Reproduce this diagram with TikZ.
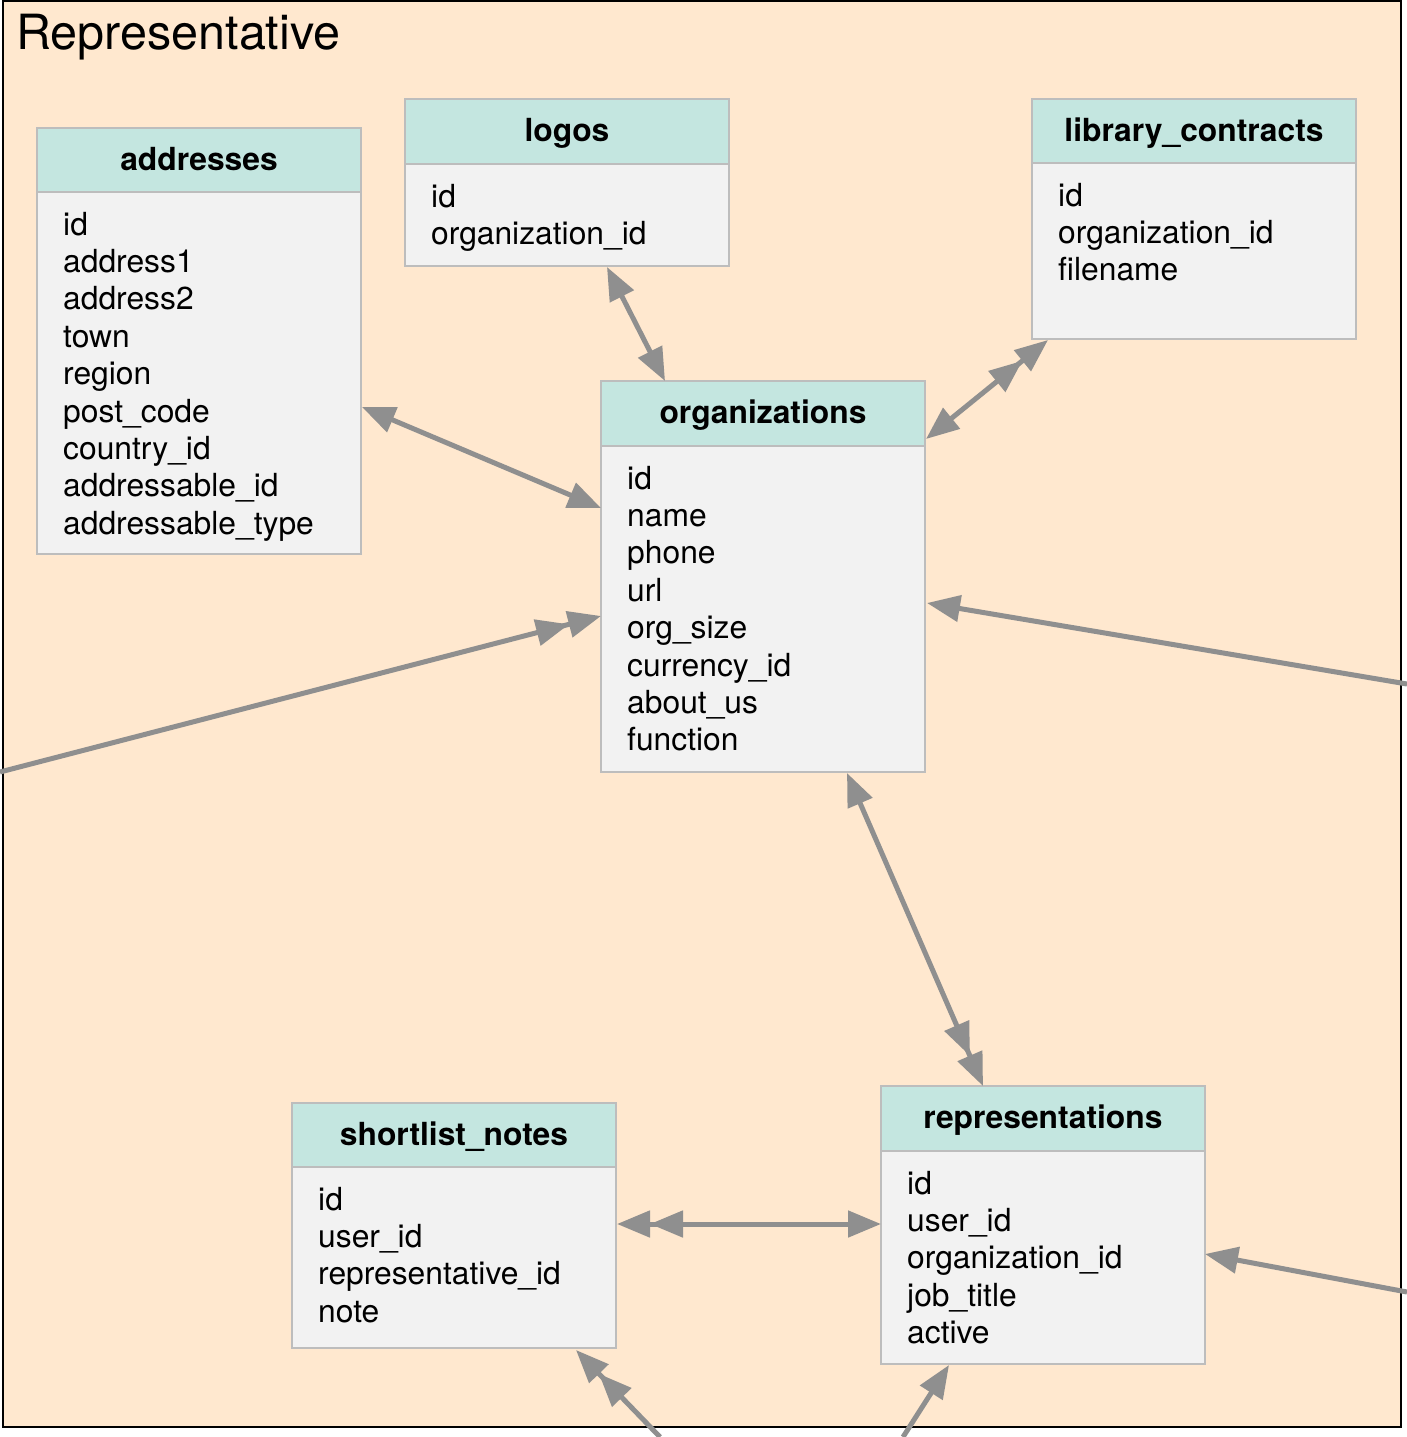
\documentclass[tikz,border=0pt]{standalone}
\usepackage{fontspec}
\setmainfont{TeX Gyre Heros}
\usetikzlibrary{arrows.meta,calc}
\definecolor{bgpeach}{HTML}{FFE8CF}
\definecolor{hdrteal}{HTML}{C4E6E0}
\definecolor{bodygray}{HTML}{F2F2F2}
\definecolor{edgegray}{HTML}{BDBDBD}
\definecolor{arrgray}{HTML}{8F8F8F}
\tikzset{
  hdrbox/.style={draw=edgegray, fill=hdrteal, line width=2pt, minimum width=324pt,
    minimum height=64.5pt, inner sep=0pt, text height=25pt, text depth=5pt,
    font=\fontsize{31.8}{37}\selectfont\bfseries},
  bodybox/.style={draw=edgegray, fill=bodygray, line width=2pt, minimum width=324pt, inner sep=0pt},
  fieldtext/.style={inner sep=0pt, font=\fontsize{31.8}{37}\selectfont},
  titletext/.style={inner sep=0pt, font=\fontsize{48.5}{55}\selectfont},
  rel/.style={draw=arrgray, line width=5pt},
  one/.style={arrows={-Triangle[length=33pt,width=26pt]}},
  oneone/.style={arrows={Triangle[length=33pt,width=26pt]-Triangle[length=33pt,width=26pt]}},
  twoone/.style={arrows={{Triangle[length=33pt,width=26pt]Triangle[length=33pt,width=26pt]}-Triangle[length=33pt,width=26pt]}},
  two/.style={arrows={-{Triangle[length=33pt,width=26pt]Triangle[length=33pt,width=26pt]}}},
}
% #1 id, #2 x, #3 header top, #4 body top, #5 body height, #6 title, #7 fields
\newcommand\dbtable[7]{%
  \node[hdrbox, anchor=north west] (#1H) at (#2,#3) {#6};
  \node[bodybox, anchor=north west, minimum height=#5pt] (#1B) at (#2,#4) {};
  \foreach \f [count=\i from 0] in {#7}
    \node[fieldtext, anchor=base west] (#1F\i) at ($(#1B.north west)+(27,{44+37.4*\i})$) {\f};
}
\begin{document}
\begin{tikzpicture}[x=1pt,y=-1pt]
\useasboundingbox (0,0) rectangle (1407,1437);
\clip (0,0) rectangle (1407,1437);
\fill[white] (0,0) rectangle (1407,1437);
\fill[bgpeach] (3,1) rectangle (1401,1427);
\draw[black, line width=2.5pt] (3,1) rectangle (1401,1427);
\node[titletext, anchor=base west] (title) at (16,49) {Representative};

\dbtable{ad}{36}{127}{191}{362}{addresses}{id,address1,address2,town,region,post\_code,country\_id,addressable\_id,addressable\_type}
\dbtable{lg}{404}{98}{163}{102}{logos}{id,organization\_id}
\dbtable{lc}{1031}{98}{162}{176}{library\_contracts}{id,organization\_id,filename}
\dbtable{org}{600}{380}{445}{326}{organizations}{id,name,phone,url,org\_size,currency\_id,about\_us,function}
\dbtable{sn}{291}{1102}{1166}{181}{shortlist\_notes}{id,user\_id,representative\_id,note}
\dbtable{rp}{880}{1085}{1150}{213}{representations}{id,user\_id,organization\_id,job\_title,active}

\coordinate (L1) at (0,772);
\coordinate (R1) at (1407,684);
\coordinate (R2) at (1407,1292);
\coordinate (B1) at (660,1437);
\coordinate (B2) at (903,1437);

\draw[rel, oneone] ($(lgB.south west)+(203,0)$) -- ($(orgH.north west)+(65,1)$);
\draw[rel, twoone] ($(lcB.south west)+(17,0)$) -- ($(orgH.north east)+(0,59)$);
\draw[rel, oneone] ($(adB.north east)+(0,216)$) -- ($(orgB.north west)+(1,63)$);
\draw[rel, two] (L1) -- ($(orgB.north west)+(1,171)$);
\draw[rel, one] (R1) -- ($(orgB.north east)+(1,158)$);
\draw[rel, arrows={Triangle[length=33pt,width=26pt]-{Triangle[length=33pt,width=26pt]Triangle[length=33pt,width=26pt]}}]
  ($(orgB.south west)+(247,0)$) -- ($(rpH.north west)+(103,1)$);
\draw[rel, twoone] ($(snB.north east)+(0,58)$) -- ($(rpB.north west)+(1,74)$);
\draw[rel, one] (R2) -- ($(rpB.north east)+(-1,104)$);
\draw[rel, two] (B1) -- ($(snB.south east)+(-41,1)$);
\draw[rel, one] (B2) -- ($(rpB.south west)+(69,0)$);
\end{tikzpicture}
\end{document}
